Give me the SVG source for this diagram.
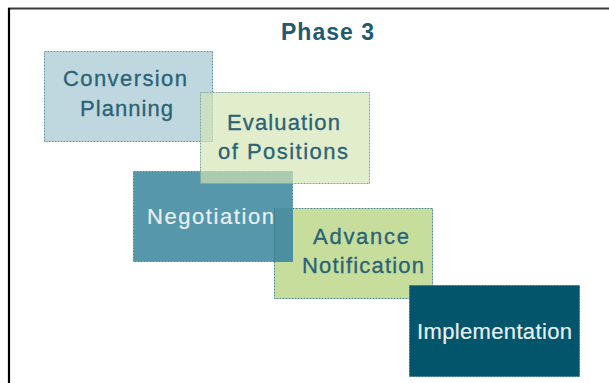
<svg xmlns="http://www.w3.org/2000/svg" width="609" height="383" viewBox="0 0 609 383">
<style>
.box{stroke-width:1;stroke-dasharray:2 1}
.t{font-family:"Liberation Sans",Arial,sans-serif;font-size:22px;text-anchor:start}
.dark{fill:#2a6276;stroke:#2a6276;stroke-width:0.3}
.light{fill:#e8f0f2;stroke:#e8f0f2;stroke-width:0.2}
</style>
<rect x="0" y="0" width="609" height="383" fill="#ffffff"/>
<g id="frame">
<line x1="8" y1="8.5" x2="609" y2="8.5" stroke="#3a3a3a" stroke-width="2"/>
<line x1="9" y1="8" x2="9" y2="383" stroke="#000000" stroke-width="2.2"/>
</g>
<g id="title">
<text x="281" y="40" class="t" style="font-size:23px;font-weight:bold" fill="#1f5a6e" textLength="93" lengthAdjust="spacing">Phase 3</text>
</g>
<g id="conversion-planning">
<rect class="box" x="44.5" y="51.5" width="168" height="90" fill="#bfd7df" stroke="#5f97a8"/>
<text class="t dark" x="63" y="86" textLength="124" lengthAdjust="spacing">Conversion</text>
<text class="t dark" x="80" y="116" textLength="93" lengthAdjust="spacing">Planning</text>
</g>
<g id="negotiation">
<rect class="box" x="133.5" y="171.5" width="159" height="90" fill="#5797ac" stroke="#4a8a9e"/>
<text class="t light" x="147" y="224" textLength="127" lengthAdjust="spacing">Negotiation</text>
</g>
<g id="evaluation-of-positions">
<rect class="box" x="200.5" y="92.5" width="169" height="91" fill="#d3e4b2" fill-opacity="0.68" stroke="#7fa9a3"/>
<text class="t dark" x="227" y="130" textLength="113" lengthAdjust="spacing">Evaluation</text>
<text class="t dark" x="218" y="159" textLength="130" lengthAdjust="spacing">of Positions</text>
</g>
<g id="advance-notification">
<rect class="box" x="274.5" y="208.5" width="158" height="90" fill="#c6dd9c" stroke="#4f8d8c"/>
<rect x="274" y="208" width="19" height="54" fill="#4b8fa0"/>
<line x1="274.5" y1="208" x2="274.5" y2="262" stroke="#3f8294" stroke-width="1"/>
<text class="t dark" x="313" y="244" textLength="96" lengthAdjust="spacing">Advance</text>
<text class="t dark" x="302" y="273" textLength="122" lengthAdjust="spacing">Notification</text>
</g>
<g id="implementation">
<rect class="box" x="409.5" y="285.5" width="170" height="91" fill="#03556c" stroke="#2f6f82"/>
<text class="t light" x="417" y="339" textLength="155" lengthAdjust="spacing">Implementation</text>
</g>
<g id="connectors"></g>
</svg>
